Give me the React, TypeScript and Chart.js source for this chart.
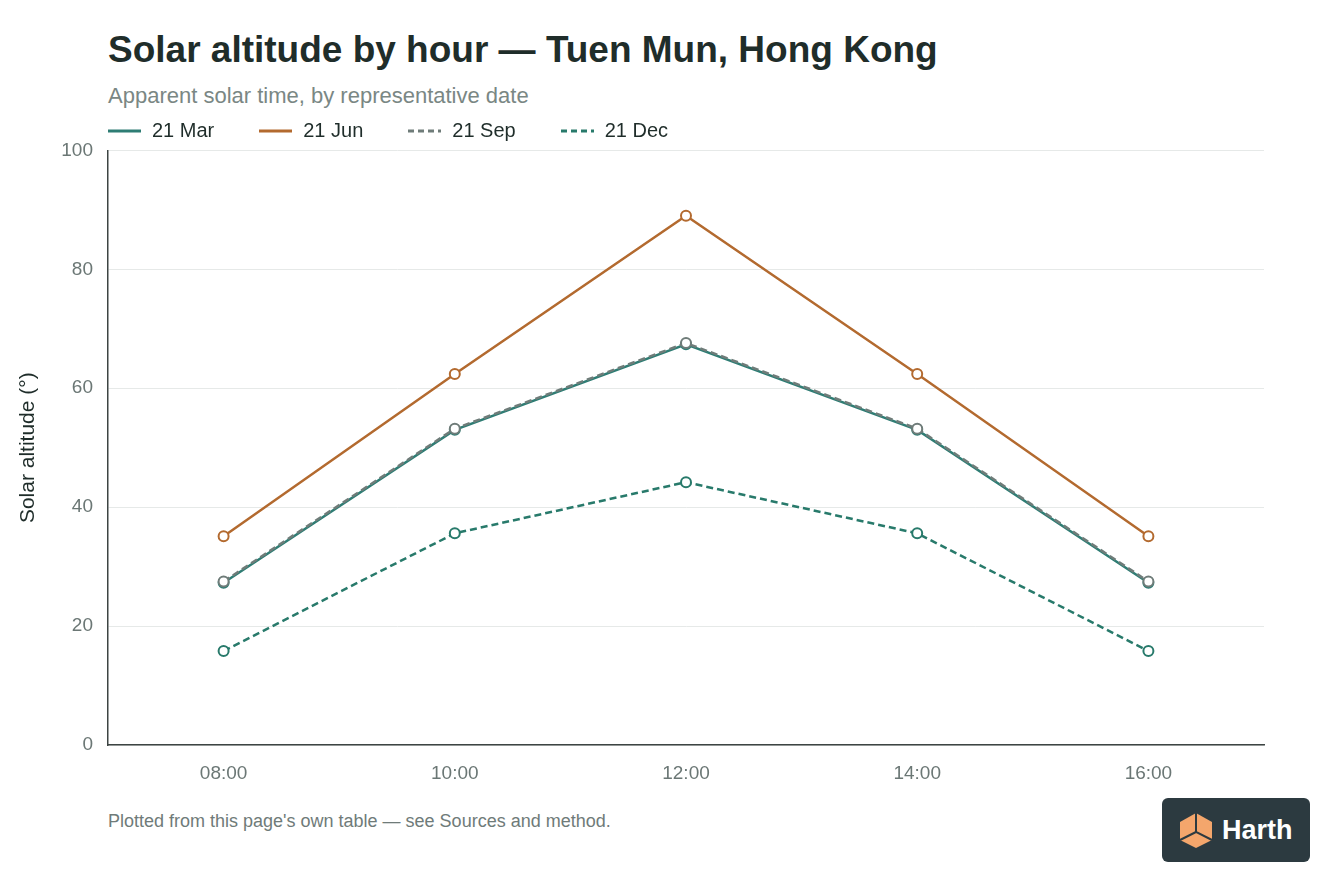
import React, { useEffect, useRef } from 'react';
import { Chart, registerables } from 'chart.js';

Chart.register(...registerables);

const FONT = '"Liberation Sans", Arial, Helvetica, sans-serif';

const hours = ['08:00', '10:00', '12:00', '14:00', '16:00'];
const march = [27.3, 53.0, 67.4, 53.0, 27.3];
const june = [35.1, 62.4, 89.0, 62.4, 35.1];
const september = [27.5, 53.2, 67.6, 53.2, 27.5];
const december = [15.8, 35.6, 44.2, 35.6, 15.8];

// order: lower value is painted on top (Sep sits over Mar in the reference)
const series = [
  { label: '21 Mar', data: march, color: '#2e7d74', dash: [] as number[], order: 1 },
  { label: '21 Jun', data: june, color: '#b36a2f', dash: [] as number[], order: 1 },
  { label: '21 Sep', data: september, color: '#6f7c79', dash: [7, 4], order: 0 },
  { label: '21 Dec', data: december, color: '#287a6b', dash: [7, 4], order: 0 },
];

const SolarChart: React.FC = () => {
  const canvasRef = useRef<HTMLCanvasElement>(null);
  const chartRef = useRef<Chart | null>(null);

  useEffect(() => {
    if (!canvasRef.current) return;
    const ctx = canvasRef.current.getContext('2d');
    if (!ctx) return;

    if (chartRef.current) {
      chartRef.current.destroy();
      chartRef.current = null;
    }

    chartRef.current = new Chart(ctx, {
      type: 'line',
      data: {
        labels: hours,
        datasets: series.map((s) => ({
          label: s.label,
          data: s.data,
          order: s.order,
          borderColor: s.color,
          backgroundColor: '#ffffff',
          borderDash: s.dash,
          borderWidth: 2.5,
          pointRadius: 5,
          pointBorderWidth: 2,
          pointBackgroundColor: '#ffffff',
          pointBorderColor: s.color,
          tension: 0,
        })),
      },
      options: {
        animation: false,
        responsive: false,
        maintainAspectRatio: false,
        layout: { padding: { top: 10, right: 16, left: 0, bottom: 0 } },
        plugins: {
          legend: { display: false },
          tooltip: { enabled: false },
        },
        scales: {
          x: {
            offset: true,
            grid: { display: false, drawTicks: false },
            border: { display: true, color: '#3d4443', width: 1.5 },
            ticks: { color: '#6b7775', padding: 17, font: { family: FONT, size: 19 } },
            afterFit: (scale: any) => { scale.height = 50; },
          },
          y: {
            min: 0,
            max: 100,
            ticks: { stepSize: 20, color: '#6b7775', padding: 15, font: { family: FONT, size: 19 } },
            grid: { color: '#e6e9e8', lineWidth: 1, drawTicks: false },
            border: { display: true, color: '#3d4443', width: 1.5 },
            title: {
              display: true,
              text: 'Solar altitude (°)',
              color: '#1f2d2a',
              font: { family: FONT, size: 21 },
              padding: { top: 16, bottom: 0 },
            },
            afterFit: (scale: any) => { scale.width = 108; },
          },
        },
      },
    });

    return () => {
      if (chartRef.current) {
        chartRef.current.destroy();
        chartRef.current = null;
      }
    };
  }, []);

  return <canvas ref={canvasRef} width={1280} height={671} style={{ display: 'block' }}></canvas>;
};

const LegendLine: React.FC<{ color: string; dash: number[] }> = ({ color, dash }) => (
  <svg width={33} height={6} style={{ marginRight: 11, verticalAlign: 'middle' }}>
    <line x1={0} y1={3} x2={33} y2={3} stroke={color} strokeWidth={3} strokeDasharray={dash.length ? '6 4' : undefined} />
  </svg>
);

const Logo: React.FC = () => (
  <div
    style={{
      position: 'absolute', left: 1162, top: 798, width: 148, height: 64,
      background: '#2c3a40', borderRadius: 6, display: 'flex', alignItems: 'center',
      boxSizing: 'border-box', paddingLeft: 14,
    }}
  >
    <svg width={40} height={40} viewBox="0 0 40 40">
      <polygon points="20,3 36,12 36,30 20,38 4,30 4,12" fill="#f4a66c" />
      <polyline points="20,3 20,22 36,30" fill="none" stroke="#2c3a40" strokeWidth={2} />
      <polyline points="20,22 4,30" fill="none" stroke="#2c3a40" strokeWidth={2} />
    </svg>
    <span style={{ color: '#ffffff', fontFamily: FONT, fontWeight: 700, fontSize: 27, marginLeft: 6 }}>Harth</span>
  </div>
);

const App: React.FC = () => {
  return (
    <div style={{ position: 'relative', width: 1344, height: 896, background: '#ffffff', fontFamily: FONT }}>
      <style>{'body{margin:0}'}</style>
      <div style={{ position: 'absolute', left: 0, top: 124 }}>
        <SolarChart />
      </div>
      <div style={{ position: 'absolute', left: 108, top: 29, fontSize: 37, fontWeight: 700, color: '#1f2d2a', whiteSpace: 'nowrap' }}>
        Solar altitude by hour — Tuen Mun, Hong Kong
      </div>
      <div style={{ position: 'absolute', left: 108, top: 83, fontSize: 22, color: '#7a8784', whiteSpace: 'nowrap' }}>
        Apparent solar time, by representative date
      </div>
      <div style={{ position: 'absolute', left: 108, top: 119, fontSize: 20, color: '#1f2d2a', display: 'flex', whiteSpace: 'nowrap' }}>
        {series.map((s) => (
          <div key={s.label} style={{ display: 'flex', alignItems: 'center', marginRight: 45 }}>
            <LegendLine color={s.color} dash={s.dash} />
            <span>{s.label}</span>
          </div>
        ))}
      </div>
      <div style={{ position: 'absolute', left: 108, top: 811, fontSize: 18, color: '#6f7b79', whiteSpace: 'nowrap' }}>
        Plotted from this page's own table — see Sources and method.
      </div>
      <Logo />
    </div>
  );
};

export default App;
